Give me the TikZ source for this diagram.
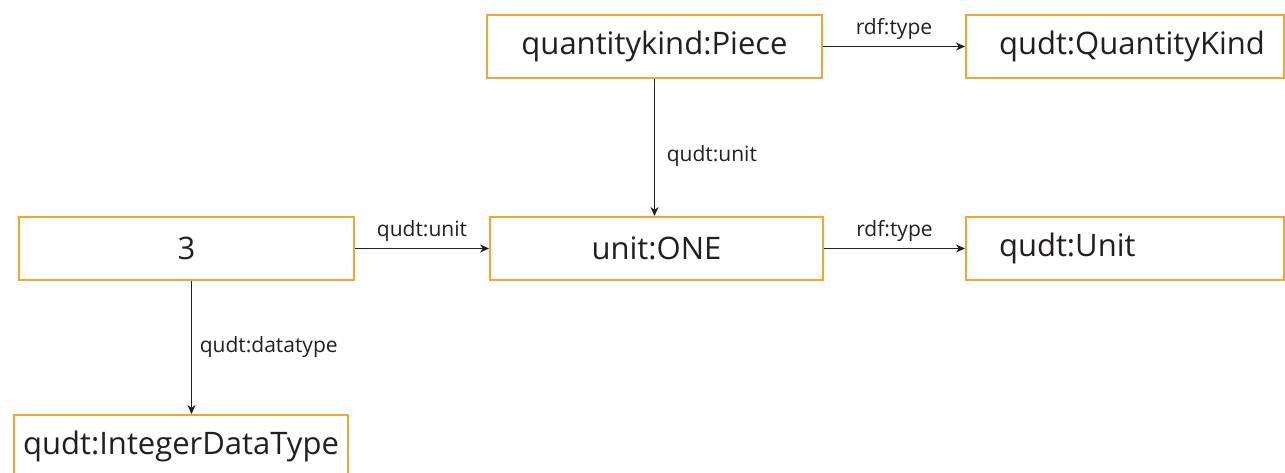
\documentclass[tikz,border=0pt]{standalone}
\usepackage{fontspec}
\setmainfont{Open Sans}
\usetikzlibrary{arrows.meta}
\definecolor{boxorange}{HTML}{F2A531}
\definecolor{txt}{HTML}{231F20}
\begin{document}
\begin{tikzpicture}[x=1pt,y=-1pt,
  box/.style={draw=boxorange, line width=2pt, fill=white, minimum height=63pt, inner sep=0pt, anchor=north west, text=txt, font=\fontsize{31}{36}\selectfont},
  lbox/.style={box, align=left, inner xsep=33pt},
  rel/.style={-{Stealth[length=9pt,width=8pt]}, line width=1.9pt, draw=txt},
  lbl/.style={font=\fontsize{21}{25}\selectfont, text=txt}]
\useasboundingbox[fill=white] (0,0) rectangle (1285,473);
\node[box, minimum width=335pt] (piece) at (486,14) {quantitykind:Piece};
\node[lbox, minimum width=318pt, text width=252pt] (qk) at (965,14) {qudt:QuantityKind};
\node[box, minimum width=335pt] (three) at (18,216) {3};
\node[box, minimum width=333pt] (one) at (489,216) {unit:ONE};
\node[lbox, minimum width=318pt, text width=252pt] (unit) at (965,216) {qudt:Unit};
\node[box, minimum width=334pt] (idt) at (13,414) {qudt:IntegerDataType};
\draw[rel] (piece.east) -- node[lbl, above=3pt] {rdf:type} (qk.west);
\draw[rel] (piece.south) -- node[lbl, right=8pt, pos=0.56] {qudt:unit} (piece.south |- one.north);
\draw[rel] (three.east) -- node[lbl, above=3pt] {qudt:unit} (one.west);
\draw[rel] (one.east) -- node[lbl, above=3pt] {rdf:type} (unit.west);
\draw[rel] ([xshift=5pt]three.south) -- node[lbl, right=4pt, pos=0.5] {qudt:datatype} ([xshift=5pt]three.south |- idt.north);
\end{tikzpicture}
\end{document}
